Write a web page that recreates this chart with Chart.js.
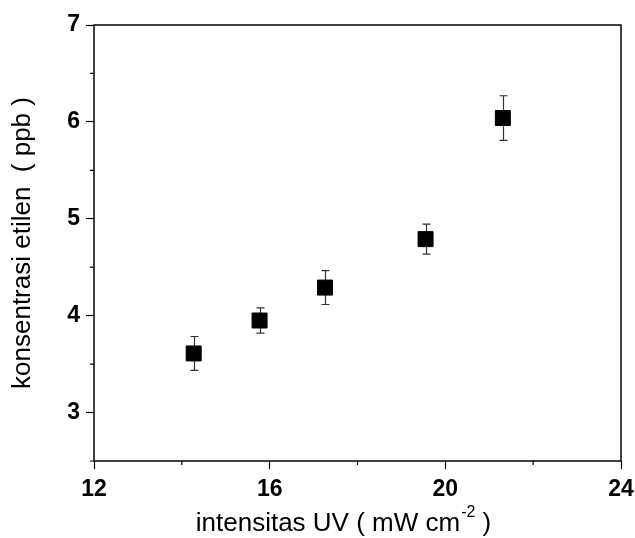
<!DOCTYPE html>
<html>
<head>
<meta charset="utf-8">
<script src="https://cdn.jsdelivr.net/npm/chart.js@4/dist/chart.umd.min.js"></script>
<style>
  html, body { margin: 0; padding: 0; background: #fff; }
  #wrap { width: 635px; height: 538px; }
</style>
</head>
<body>
<div id="wrap"><canvas id="chart"></canvas></div>
<script>
// UV intensity (mW cm-2) vs ethylene concentration (ppb)
var intensity = [14.27, 15.77, 17.26, 19.55, 21.31];
var ethylene = [3.61, 3.95, 4.29, 4.79, 6.04];
var errors = [0.175, 0.13, 0.175, 0.155, 0.23];

var xLabels = [12, 16, 20, 24];
var xMinor = [14, 18, 22];
var yLabels = [3, 4, 5, 6, 7];
var yMinor = [2.5, 3.5, 4.5, 5.5, 6.5];

var FONT = '"Liberation Sans", Arial, sans-serif';

// error bars, minor ticks, frame and x title with superscript
var extras = {
  id: 'extras',
  beforeDatasetsDraw: function (chart) {
    var ctx = chart.ctx, xs = chart.scales.x, ys = chart.scales.y;
    ctx.save();
    ctx.strokeStyle = '#333';
    ctx.lineWidth = 1.2;
    for (var i = 0; i < intensity.length; i++) {
      var px = Math.round(xs.getPixelForValue(intensity[i])) + 0.5;
      var top = ys.getPixelForValue(ethylene[i] + errors[i]);
      var bot = ys.getPixelForValue(ethylene[i] - errors[i]);
      ctx.beginPath();
      ctx.moveTo(px, top); ctx.lineTo(px, bot);
      ctx.moveTo(px - 4, top); ctx.lineTo(px + 4, top);
      ctx.moveTo(px - 4, bot); ctx.lineTo(px + 4, bot);
      ctx.stroke();
    }
    ctx.restore();
  },
  afterDraw: function (chart) {
    var ctx = chart.ctx, a = chart.chartArea;
    var xs = chart.scales.x, ys = chart.scales.y;
    ctx.save();
    ctx.strokeStyle = '#000';
    ctx.lineWidth = 1.5;
    ctx.strokeRect(a.left, a.top, a.right - a.left, a.bottom - a.top);

    ctx.lineWidth = 1.2;
    ctx.beginPath();
    yMinor.forEach(function (v) {
      var py = ys.getPixelForValue(v);
      ctx.moveTo(a.left - 4, py); ctx.lineTo(a.left, py);
    });
    xMinor.forEach(function (v) {
      var px = xs.getPixelForValue(v);
      ctx.moveTo(px, a.bottom); ctx.lineTo(px, a.bottom + 4);
    });
    ctx.stroke();

    // x axis title
    var main1 = 'intensitas UV ( mW cm', sup = '-2', main2 = ' )';
    var big = '26px ' + FONT, small = '16px ' + FONT;
    ctx.fillStyle = '#000';
    ctx.textBaseline = 'alphabetic';
    ctx.textAlign = 'left';
    ctx.font = big;
    var w1 = ctx.measureText(main1).width, w3 = ctx.measureText(main2).width;
    ctx.font = small;
    var w2 = ctx.measureText(sup).width;
    var x0 = 343 - (w1 + w2 + w3) / 2, base = 531;
    ctx.font = big;
    ctx.fillText(main1, x0, base);
    ctx.font = small;
    ctx.fillText(sup, x0 + w1 + 1, base - 14);
    ctx.font = big;
    ctx.fillText(main2, x0 + w1 + w2 + 1, base);
    ctx.restore();
  }
};

var config = {
  type: 'scatter',
  data: {
    datasets: [{
      label: 'etilen',
      data: intensity.map(function (x, i) { return { x: x, y: ethylene[i] }; }),
      pointStyle: 'rect',
      pointRadius: 10.6,
      pointHoverRadius: 10.6,
      backgroundColor: '#000',
      borderColor: '#000',
      borderWidth: 1
    }]
  },
  options: {
    responsive: true,
    maintainAspectRatio: false,
    animation: false,
    layout: { padding: { top: 25, right: 14, left: 0, bottom: 0 } },
    plugins: {
      legend: { display: false },
      tooltip: { enabled: false }
    },
    scales: {
      x: {
        type: 'linear',
        min: 12,
        max: 24,
        border: { display: false },
        grid: {
          drawOnChartArea: false,
          tickLength: 8,
          tickWidth: 1.2,
          tickColor: function (c) {
            return xLabels.indexOf(c.tick.value) >= 0 ? '#000' : 'rgba(0,0,0,0)';
          }
        },
        ticks: {
          stepSize: 2,
          padding: 7,
          color: '#000',
          font: { family: FONT, size: 23, weight: 'bold' },
          callback: function (v) { return xLabels.indexOf(v) >= 0 ? v : ''; }
        },
        afterFit: function (s) {
          s.height = 77;
          s.paddingLeft = 0;
          s.paddingRight = 0;
        }
      },
      y: {
        type: 'linear',
        min: 2.5,
        max: 7,
        border: { display: false },
        grid: {
          drawOnChartArea: false,
          tickLength: 8,
          tickWidth: 1.2,
          tickColor: function (c) {
            return yLabels.indexOf(c.tick.value) >= 0 ? '#000' : 'rgba(0,0,0,0)';
          }
        },
        ticks: {
          stepSize: 0.5,
          padding: 6,
          color: '#000',
          font: { family: FONT, size: 23, weight: 'bold' },
          callback: function (v) { return yLabels.indexOf(v) >= 0 ? v : ''; }
        },
        title: {
          display: true,
          text: 'konsentrasi etilen  ( ppb )',
          color: '#000',
          padding: { top: 10, bottom: 0 },
          font: { family: FONT, size: 26, lineHeight: 1 }
        },
        afterFit: function (s) {
          s.width = 94;
          s.paddingTop = 0;
          s.paddingBottom = 0;
        }
      }
    }
  },
  plugins: [extras]
};

new Chart(document.getElementById('chart'), config);
</script>
</body>
</html>
